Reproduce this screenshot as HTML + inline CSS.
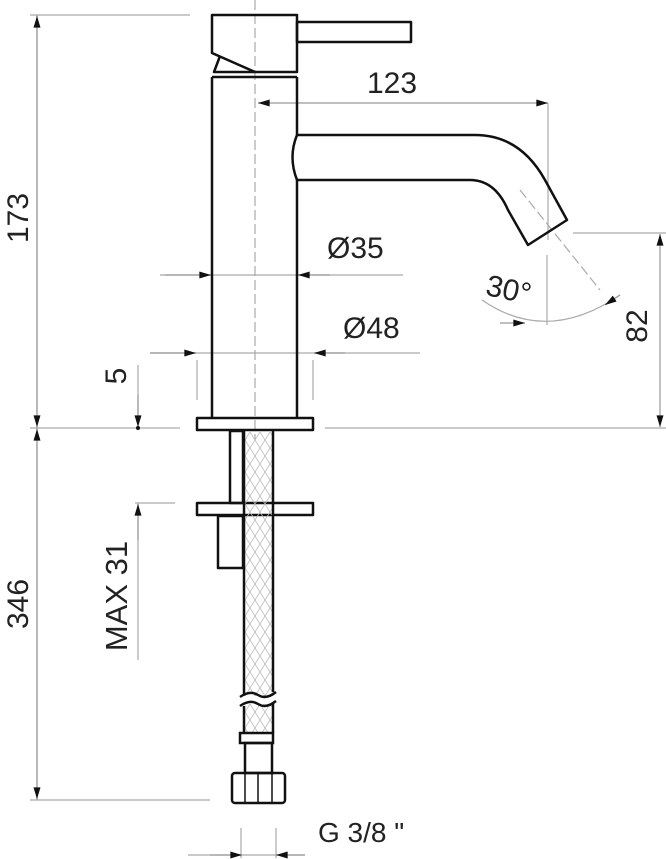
<!DOCTYPE html>
<html><head><meta charset="utf-8"><style>
html,body{margin:0;padding:0;background:#fff;}
svg{display:block;}
text{font-family:"Liberation Sans",sans-serif;fill:#222;}
</style></head><body>
<svg width="666" height="859" viewBox="0 0 666 859" xmlns="http://www.w3.org/2000/svg">
<defs>
<marker id="a" viewBox="0 0 10 6" refX="10" refY="3" markerWidth="22" markerHeight="7" markerUnits="userSpaceOnUse" orient="auto"><path d="M0,0L10,3L0,6z" fill="#111"/></marker>
<pattern id="x" width="10" height="16" patternUnits="userSpaceOnUse"><path d="M0,0L10,16M10,0L0,16" stroke="#bbb" stroke-width="0.8" fill="none"/></pattern>
</defs>
<g stroke="#aaa" stroke-width="1.2" fill="none">
<line x1="255" y1="0" x2="255" y2="440" stroke-dasharray="10,4"/>
<line x1="30" y1="15" x2="190" y2="15"/>
<line x1="30" y1="428" x2="180" y2="428"/>
<line x1="325" y1="428" x2="666" y2="428"/>
<line x1="135" y1="503" x2="175" y2="503"/>
<line x1="30" y1="800" x2="210" y2="800"/>
<line x1="573" y1="233" x2="666" y2="233"/>
<line x1="548" y1="103" x2="548" y2="240"/>
<line x1="547" y1="255" x2="547" y2="325"/>
<line x1="520" y1="190" x2="600" y2="290" stroke-dasharray="10,4"/>
<path d="M482,300 Q547,345 620,295"/>
<line x1="160" y1="275" x2="403" y2="275"/>
<line x1="150" y1="353" x2="420" y2="353"/>
<line x1="197" y1="360" x2="197" y2="400"/>
<line x1="313" y1="360" x2="313" y2="400"/>
<line x1="241" y1="828" x2="241" y2="858"/>
<line x1="276" y1="828" x2="276" y2="858"/>
<line x1="188" y1="855" x2="305" y2="855"/>
<line x1="138" y1="365" x2="138" y2="428"/>
<line x1="138" y1="503" x2="138" y2="660"/>
</g>
<g stroke="#999" stroke-width="1.2" fill="none">
<line x1="37" y1="15" x2="37" y2="428"/>
<line x1="37" y1="428" x2="37" y2="800"/>
<line x1="400" y1="103" x2="258" y2="103" marker-end="url(#a)"/>
<line x1="400" y1="103" x2="548" y2="103" marker-end="url(#a)"/>
<line x1="660" y1="330" x2="660" y2="234" marker-end="url(#a)"/>
<line x1="660" y1="330" x2="660" y2="427" marker-end="url(#a)"/>
<line x1="37" y1="200" x2="37" y2="16" marker-end="url(#a)"/>
<line x1="37" y1="200" x2="37" y2="427" marker-end="url(#a)"/>
<line x1="37" y1="600" x2="37" y2="429" marker-end="url(#a)"/>
<line x1="37" y1="600" x2="37" y2="799" marker-end="url(#a)"/>
<line x1="165" y1="275" x2="211" y2="275" marker-end="url(#a)"/>
<line x1="330" y1="275" x2="298" y2="275" marker-end="url(#a)"/>
<line x1="150" y1="353" x2="196" y2="353" marker-end="url(#a)"/>
<line x1="345" y1="353" x2="314" y2="353" marker-end="url(#a)"/>
<line x1="138" y1="395" x2="138" y2="427" marker-end="url(#a)"/>
<line x1="138" y1="540" x2="138" y2="504" marker-end="url(#a)"/>
<line x1="210" y1="855" x2="242" y2="855" marker-end="url(#a)"/>
<line x1="305" y1="855" x2="276" y2="855" marker-end="url(#a)"/>
<line x1="500" y1="323" x2="525" y2="323" marker-end="url(#a)"/>
<line x1="620" y1="295" x2="605" y2="305" marker-end="url(#a)"/>
</g>
<circle cx="138" cy="428" r="2" fill="#111"/>
<g stroke="#111" stroke-width="2.5" fill="none" stroke-linejoin="round">
<path d="M212,15 L297,15 L297,72 L255,72 L212,53 Z"/>
<path d="M220,56 L214,72 L255,72"/>
<rect x="297" y="22" width="114" height="20"/>
<path d="M212,77 L297,77"/>
<line x1="212" y1="77" x2="212" y2="417"/>
<line x1="297" y1="77" x2="297" y2="135"/>
<line x1="297" y1="180" x2="297" y2="417"/>
<path d="M297,135 Q288,157 297,180"/>
<path d="M297,135 L475,135 Q520,135 545,180 L567,220 L528,245 L508,210 Q495,180 470,180 L297,180"/>
<rect x="197" y="418" width="116" height="12"/>
<rect x="230" y="431" width="13" height="72"/>
<rect x="197" y="503" width="116" height="12"/>
<rect x="218" y="516" width="25" height="52"/>
</g>
<rect x="244" y="431" width="29" height="302" fill="url(#x)"/>
<rect x="244" y="696" width="29" height="8" fill="#fff"/>
<g stroke="#111" stroke-width="2.5" fill="none">
<line x1="244" y1="431" x2="244" y2="694"/>
<line x1="273" y1="431" x2="273" y2="692"/>
<line x1="244" y1="706" x2="244" y2="733"/>
<line x1="273" y1="704" x2="273" y2="733"/>
<path d="M240,697 Q250,690 258,695 Q266,700 276,692"/>
<path d="M240,706 Q250,699 258,704 Q266,709 276,701"/>
<rect x="240" y="733" width="33" height="10"/>
<rect x="245" y="743" width="27" height="30"/>
<rect x="232" y="773" width="53" height="30" rx="3"/>
<line x1="245" y1="774" x2="245" y2="802" stroke-width="1.5"/>
<line x1="258" y1="774" x2="258" y2="802" stroke-width="1.5"/>
<line x1="272" y1="774" x2="272" y2="802" stroke-width="1.5"/>
</g>
<g font-size="30">
<text x="367" y="93">123</text>
<text x="327" y="258">Ø35</text>
<text x="343" y="338">Ø48</text>
<text x="486" y="300" transform="rotate(12 510 290)">30°</text>
<text x="318" y="842" font-size="28">G 3/8 "</text>
<text transform="translate(28,218) rotate(-90)" text-anchor="middle">173</text>
<text transform="translate(28,604) rotate(-90)" text-anchor="middle">346</text>
<text transform="translate(647,326) rotate(-90)" text-anchor="middle">82</text>
<text transform="translate(126,376) rotate(-90)" text-anchor="middle">5</text>
<text transform="translate(127,596) rotate(-90)" text-anchor="middle" font-size="31">MAX 31</text>
</g>
</svg>
</body></html>
